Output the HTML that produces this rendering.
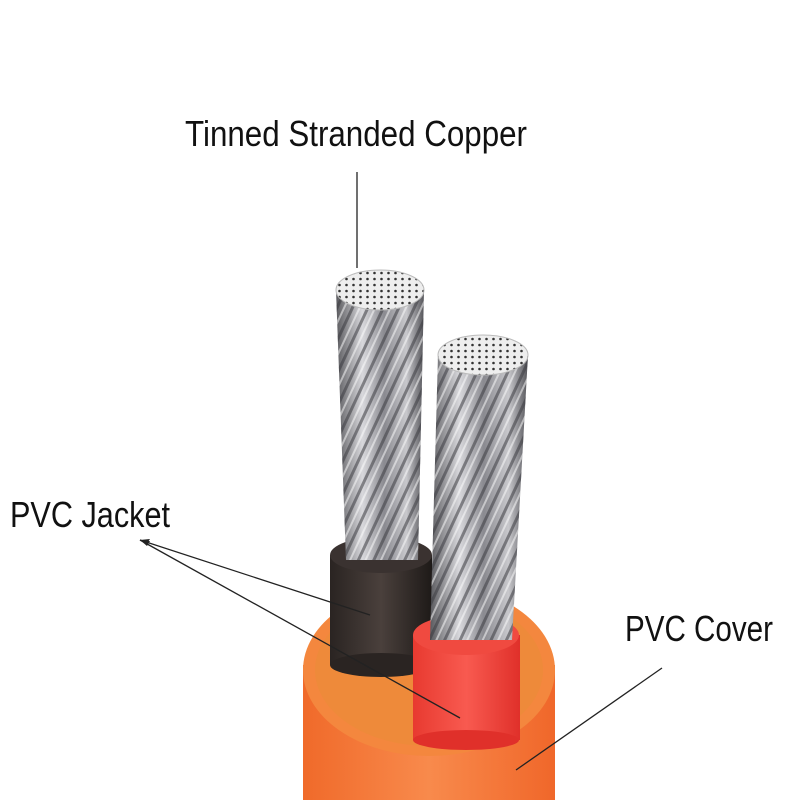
<!DOCTYPE html>
<html><head><meta charset="utf-8"><style>
html,body{margin:0;padding:0;background:#fff;}
svg{display:block}
text{font-family:"Liberation Sans",sans-serif;fill:#111}
</style></head><body>
<svg width="800" height="800" viewBox="0 0 800 800" xmlns="http://www.w3.org/2000/svg">
<defs>
<linearGradient id="steel" x1="0" x2="1" y1="0" y2="0">
<stop offset="0" stop-color="#5a5a5e"/><stop offset="0.3" stop-color="#d8d8dc"/><stop offset="0.55" stop-color="#8a8a90"/><stop offset="0.8" stop-color="#c8c8cc"/><stop offset="1" stop-color="#55555a"/>
</linearGradient>
<pattern id="twist" width="14" height="40" patternUnits="userSpaceOnUse" patternTransform="rotate(25)">
<rect width="14" height="40" fill="none"/><rect width="3" height="40" fill="#3a3a40" opacity="0.55"/><rect x="7" width="2" height="40" fill="#fff" opacity="0.5"/>
</pattern>
<pattern id="dots" width="7" height="6" patternUnits="userSpaceOnUse">
<rect width="7" height="6" fill="#eee"/><circle cx="3.5" cy="3" r="1.3" fill="#333"/>
</pattern>
<linearGradient id="orange" x1="0" x2="1"><stop offset="0" stop-color="#f06a2a"/><stop offset="0.5" stop-color="#f88a4c"/><stop offset="1" stop-color="#f0672a"/></linearGradient>
<linearGradient id="black" x1="0" x2="1"><stop offset="0" stop-color="#2a2422"/><stop offset="0.5" stop-color="#4a403c"/><stop offset="1" stop-color="#1e1a18"/></linearGradient>
<linearGradient id="red" x1="0" x2="1"><stop offset="0" stop-color="#e83a30"/><stop offset="0.5" stop-color="#f85a50"/><stop offset="1" stop-color="#e0302a"/></linearGradient>
</defs>

<rect x="303" y="665" width="252" height="135" fill="url(#orange)"/>
<ellipse cx="429" cy="670" rx="126" ry="86" fill="#f4873e"/>
<ellipse cx="429" cy="670" rx="114" ry="76" fill="#ee8a3a"/>

<rect x="330" y="555" width="102" height="110" fill="url(#black)"/>
<ellipse cx="381" cy="665" rx="51" ry="12" fill="#2a2422"/>
<ellipse cx="381" cy="555" rx="51" ry="18" fill="#3a3230"/>
<path d="M336 290 L424 290 L418 560 L346 560 Z" fill="url(#steel)"/>
<path d="M336 290 L424 290 L418 560 L346 560 Z" fill="url(#twist)"/>
<ellipse cx="380" cy="290" rx="44" ry="20" fill="url(#dots)" stroke="#bbb"/>

<rect x="413" y="635" width="107" height="105" fill="url(#red)"/>
<ellipse cx="466" cy="740" rx="53" ry="10" fill="#e0302a"/>
<ellipse cx="466" cy="635" rx="53" ry="20" fill="#f04a40"/>
<path d="M438 355 L528 355 L512 640 L430 640 Z" fill="url(#steel)"/>
<path d="M438 355 L528 355 L512 640 L430 640 Z" fill="url(#twist)"/>
<ellipse cx="483" cy="355" rx="45" ry="20" fill="url(#dots)" stroke="#bbb"/>

<text x="185" y="146" font-size="36" textLength="342" lengthAdjust="spacingAndGlyphs">Tinned Stranded Copper</text>
<text x="10" y="527" font-size="36" textLength="160" lengthAdjust="spacingAndGlyphs">PVC Jacket</text>
<text x="625" y="641" font-size="36" textLength="148" lengthAdjust="spacingAndGlyphs">PVC Cover</text>

<g stroke="#222" stroke-width="1.3" fill="none">
<line x1="357" y1="172" x2="357" y2="268"/>
<line x1="140" y1="540" x2="370" y2="615"/>
<line x1="140" y1="540" x2="460" y2="718"/>
<line x1="662" y1="668" x2="516" y2="770"/>
</g>
<path d="M140 540 l10 1 l-3 5 z M140 540 l10 -1 l-4 6 z" fill="#222"/>
</svg>
</body></html>
